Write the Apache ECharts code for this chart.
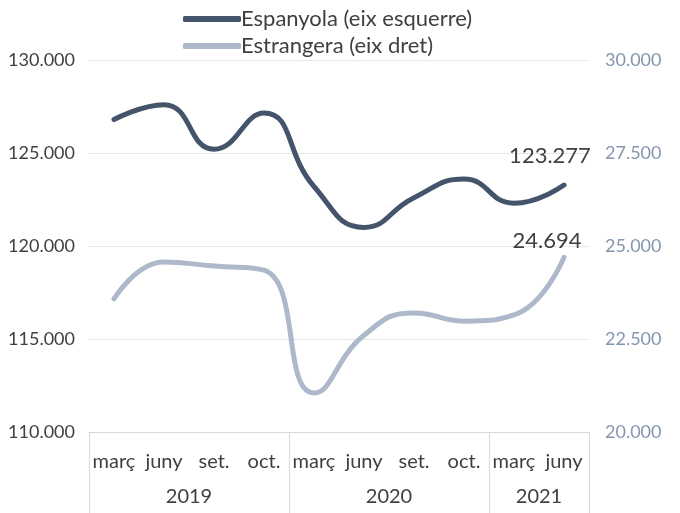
<!DOCTYPE html>
<html>
<head>
<meta charset="utf-8">
<script src="https://cdn.jsdelivr.net/npm/echarts@6/dist/echarts.min.js"></script>
<style>
  html, body { margin: 0; padding: 0; background: #fff; }
  #chart { width: 680px; height: 513px; }
</style>
</head>
<body>
<div id="chart"></div>
<script>
const months = ['març', 'juny', 'set.', 'oct.', 'març', 'juny', 'set.', 'oct.', 'març', 'juny']
// year axis sits on band edges (11 slots), labels at the middle of each group
const yearSlots = ['', '', '2019', '', '', '', '2020', '', '', '2021', '']
const yearEdges = [0, 4, 8, 10]
const espanyola = [126800, 127600, 125200, 127150, 123200, 121000, 122600, 123600, 122300, 123277]
const estrangera = [23580, 24570, 24460, 24350, 21050, 22600, 23200, 22980, 23150, 24694]

const fmt = v => Math.round(v).toString().replace(/\B(?=(\d{3})+(?!\d))/g, '.')
const font = 'Lato, "Open Sans", sans-serif'

// label only on the last point
function withLastLabel (arr, offset) {
  return arr.map((v, i) => i === arr.length - 1
    ? { value: v, label: { show: true, position: 'top', offset: offset, distance: 8, formatter: p => fmt(p.value), fontSize: 22, color: '#404040', fontFamily: font } }
    : v)
}

const chart = echarts.init(document.getElementById('chart'))
const option = {
  animation: false,
  textStyle: { fontFamily: font },
  legend: {
    orient: 'vertical',
    left: 178,
    top: 3,
    itemWidth: 58,
    itemHeight: 6,
    itemGap: 5,
    icon: 'roundRect',
    textStyle: { fontSize: 22, color: '#404040', fontFamily: font, padding: [0, 0, 0, -5] },
    data: ['Espanyola (eix esquerre)', 'Estrangera (eix dret)']
  },
  grid: { left: 89, right: 91, top: 60, bottom: 81 },
  xAxis: [
    {
      type: 'category',
      data: months,
      axisLine: { show: true, lineStyle: { color: '#d9d9d9', width: 1 } },
      axisTick: { show: false },
      axisLabel: { interval: 0, margin: 20, fontSize: 20, color: '#404040' }
    },
    {
      type: 'category',
      boundaryGap: false,
      position: 'bottom',
      data: yearSlots,
      axisLine: { show: false },
      axisTick: {
        show: true,
        length: 82,
        interval: (i) => yearEdges.includes(i),
        lineStyle: { color: '#d9d9d9', width: 1 }
      },
      axisLabel: { interval: 0, margin: 55, fontSize: 20, color: '#404040' }
    }
  ],
  yAxis: [
    {
      type: 'value',
      min: 110000,
      max: 130000,
      interval: 5000,
      axisLine: { show: false },
      axisTick: { show: false },
      splitLine: { lineStyle: { color: '#e6e6e6' } },
      axisLabel: { margin: 14, fontSize: 18, color: '#404040', formatter: fmt }
    },
    {
      type: 'value',
      min: 20000,
      max: 30000,
      interval: 2500,
      axisLine: { show: false },
      axisTick: { show: false },
      splitLine: { show: false },
      axisLabel: { margin: 16, fontSize: 18, color: '#8496b0', formatter: fmt }
    }
  ],
  series: [
    {
      name: 'Espanyola (eix esquerre)',
      type: 'line',
      xAxisIndex: 0,
      yAxisIndex: 0,
      smooth: 0.5,
      symbol: 'circle',
      symbolSize: 0.1,
      showSymbol: true,
      lineStyle: { width: 5, color: '#44546a', cap: 'round' },
      itemStyle: { color: '#44546a' },
      data: withLastLabel(espanyola, [-14, -10])
    },
    {
      name: 'Estrangera (eix dret)',
      type: 'line',
      xAxisIndex: 0,
      yAxisIndex: 1,
      smooth: 0.5,
      symbol: 'circle',
      symbolSize: 0.1,
      showSymbol: true,
      lineStyle: { width: 5, color: '#adb9ca', cap: 'round' },
      itemStyle: { color: '#adb9ca' },
      data: withLastLabel(estrangera, [-17, 3])
    }
  ]
}
chart.setOption(option)
</script>
</body>
</html>
